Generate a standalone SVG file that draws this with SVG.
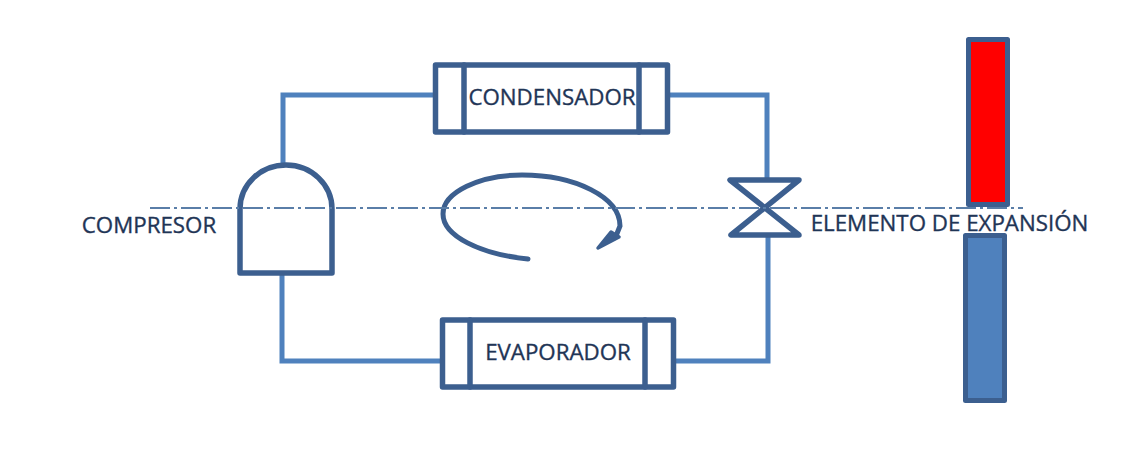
<svg xmlns="http://www.w3.org/2000/svg" width="1126" height="459" viewBox="0 0 1126 459">
<style>
.s{fill:none;stroke:#3c5f8f;stroke-width:5.500;stroke-linejoin:round;stroke-linecap:round}
.c{fill:none;stroke:#4f81bd;stroke-width:5;stroke-linejoin:miter}
.t{font-family:"Open Sans","Liberation Sans",sans-serif;font-size:22.300px;fill:#1f3556;stroke:#1f3556;stroke-width:.35;text-anchor:middle}
</style>
<rect width="1126" height="459" fill="#fff"/>
<g id="connectors">
<path class="c" d="M283 166V95H435"/>
<path class="c" d="M669 95H767V181"/>
<path class="c" d="M768 236V361H675"/>
<path class="c" d="M442 361H282V273"/>
</g>
<g id="compresor">
<path class="s" d="M240 209A46 44 0 0 1 332 209V273H240Z"/>
<text class="t" x="149" y="233">COMPRESOR</text>
</g>
<g id="condensador">
<rect class="s" x="435.500" y="65" width="232" height="67"/>
<path class="s" d="M464 65V132M639 65V132"/>
<text class="t" x="552" y="105">CONDENSADOR</text>
</g>
<g id="evaporador">
<rect class="s" x="442.500" y="320" width="231" height="67"/>
<path class="s" d="M470 320V387M645 320V387"/>
<text class="t" x="558" y="360">EVAPORADOR</text>
</g>
<g id="expansion">
<path class="s" d="M730 180H799L731 235H799Z"/>
<text class="t" x="949.500" y="231">ELEMENTO DE EXPANSIÓN</text>
</g>
<g id="flujo">
<path d="M528 259C480 254 443 236 443 214C443 192 480 175 522 175C575 175 620 197 620 226L616 236" fill="none" stroke="#3c5f8f" stroke-width="5" stroke-linecap="round"/>
<path d="M611 232L619 237L598 248Z" fill="#3c5f8f" stroke="#3c5f8f" stroke-width="3.500" stroke-linejoin="round"/>
</g>
<g id="barra-caliente"><rect x="968.500" y="39.500" width="39" height="165" fill="#ff0000" stroke="#3c5f8f" stroke-width="5" stroke-linejoin="round"/></g>
<g id="barra-fria"><rect x="965.500" y="235.500" width="39" height="165" fill="#4f81bd" stroke="#3c5f8f" stroke-width="5" stroke-linejoin="round"/></g>
<line id="eje" x1="150" y1="208" x2="1023" y2="208" stroke="#5a7ea8" stroke-width="2" stroke-dasharray="20 4 3 4"/>
</svg>
